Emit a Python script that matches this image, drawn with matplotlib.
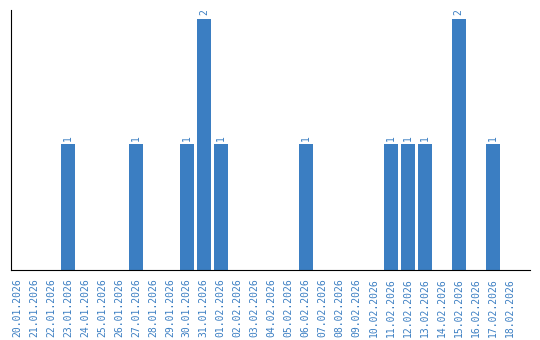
import matplotlib
matplotlib.use('Agg')
import matplotlib.pyplot as plt

# Tage und Anzahl
dates = ['20.01.2026', '21.01.2026', '22.01.2026', '23.01.2026', '24.01.2026',
         '25.01.2026', '26.01.2026', '27.01.2026', '28.01.2026', '29.01.2026',
         '30.01.2026', '31.01.2026', '01.02.2026', '02.02.2026', '03.02.2026',
         '04.02.2026', '05.02.2026', '06.02.2026', '07.02.2026', '08.02.2026',
         '09.02.2026', '10.02.2026', '11.02.2026', '12.02.2026', '13.02.2026',
         '14.02.2026', '15.02.2026', '16.02.2026', '17.02.2026', '18.02.2026']
counts = [0, 0, 0, 1, 0, 0, 0, 1, 0, 0, 1, 2, 1, 0, 0,
          0, 0, 1, 0, 0, 0, 0, 1, 1, 1, 0, 2, 0, 1, 0]

blue = '#3b7ec2'

fig = plt.figure(figsize=(5.4, 3.4), dpi=100)
ax = fig.add_axes([11 / 540, 1 - 270 / 340, 519 / 540, 260 / 340])

x = list(range(len(dates)))
ax.bar(x, counts, width=0.82, color=blue)
for xi, c in zip(x, counts):
    if c > 0:
        ax.text(xi, c + 0.03, str(c), rotation=90, ha='center', va='bottom',
                color=blue, fontsize=7, family='DejaVu Sans Mono')

ax.set_xlim(-0.35, len(dates) - 1 + 1.2)
ax.set_ylim(0, 2.07)
ax.set_xticks(x)
ax.set_xticklabels(dates, rotation=90, color=blue, fontsize=7,
                   family='DejaVu Sans Mono')
ax.set_yticks([])
ax.tick_params(axis='x', length=0, pad=6)
ax.spines['top'].set_visible(False)
ax.spines['right'].set_visible(False)

fig.savefig('out.png', dpi=100)
